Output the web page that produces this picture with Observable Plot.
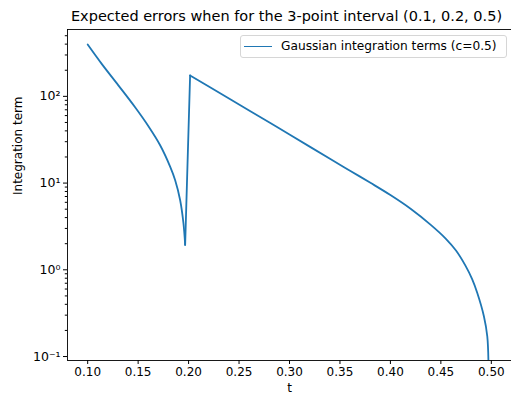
<!DOCTYPE html>
<html>
<head>
<meta charset="utf-8">
<script src="https://cdn.jsdelivr.net/npm/d3@7"></script>
<script src="https://cdn.jsdelivr.net/npm/@observablehq/plot@0.6"></script>
<style>
  html, body { margin: 0; padding: 0; background: white; }
  #wrap { position: relative; width: 511px; height: 396px; font-family: "DejaVu Sans", sans-serif; }
  #legend { position: absolute; left: 240px; top: 35px; width: 265px; height: 21px; border: 1px solid #d6d6d6; border-radius: 3px; background: rgba(255,255,255,0.8); font-size: 12.2px; color: #000; }
  #legend .sw { position: absolute; left: 3px; top: 9.5px; width: 28px; height: 0; border-top: 1.8px solid #1f77b4; }
  #legend .lb { position: absolute; left: 40px; top: 3px; white-space: nowrap; }
</style>
</head>
<body>
<div id="wrap"></div>
<script>
const titleText = "Expected errors when for the 3-point interval (0.1, 0.2, 0.5)";
const xLabel = "t";
const yLabel = "Integration term";
const seriesName = "Gaussian integration terms (c=0.5)";

// branch before the middle node (t < 0.2)
const tLeft = [0.100, 0.1139, 0.1304, 0.1470, 0.1602, 0.1718, 0.1818, 0.1867, 0.1916, 0.1949, 0.1966];
const vLeft = [396, 237, 134, 74.8, 45.2, 27.3, 15.4, 10.8, 6.38, 3.44, 1.94];
// branch after the middle node (t > 0.2)
const tRight = [0.2015, 0.2200, 0.2500, 0.2810, 0.3000, 0.3405, 0.3604, 0.3802, 0.4000, 0.4200, 0.4400,
                0.4550, 0.4650, 0.4745, 0.4810, 0.4861, 0.4927, 0.4960, 0.4972];
const vRight = [174, 129.7, 80.5, 49.2, 36.4, 18.9, 13.8, 10.07, 7.28, 5.06, 3.30,
                2.28, 1.67, 1.11, 0.78, 0.54, 0.29, 0.171, 0.08];

const xTicks = [0.10, 0.15, 0.20, 0.25, 0.30, 0.35, 0.40, 0.45, 0.50];
const yMajorTicks = [0.1, 1, 10, 100];
const yMinorTicks = [0.2, 0.3, 0.4, 0.5, 0.6, 0.7, 0.8, 0.9,
                     2, 3, 4, 5, 6, 7, 8, 9,
                     20, 30, 40, 50, 60, 70, 80, 90,
                     200, 300, 400, 500];

const left = tLeft.map((t, i) => ({t, v: vLeft[i], seg: "left"}));
const right = tRight.map((t, i) => ({t, v: vRight[i], seg: "right"}));
const branches = left.concat(right);
const jump = [left[left.length - 1], right[0]];

const sup = {"-": "⁻", "0": "⁰", "1": "¹", "2": "²", "3": "³"};
const fmtPow = d => "10" + String(Math.round(Math.log10(d))).split("").map(c => sup[c]).join("");
const lineStyle = {x: "t", y: "v", stroke: "#1f77b4", strokeWidth: 1.8, clip: true};

const chart = Plot.plot({
  width: 511,
  height: 396,
  marginLeft: 67,
  marginRight: 0,
  marginTop: 29,
  marginBottom: 36,
  style: {fontFamily: "DejaVu Sans, sans-serif", fontSize: "12px", color: "black", background: "white"},
  x: {domain: [0.08, 0.52]},
  y: {type: "log", domain: [0.09, 590]},
  marks: [
    Plot.lineY(branches, {...lineStyle, z: "seg", curve: "catmull-rom"}),
    Plot.lineY(jump, {...lineStyle, curve: "linear"}),
    Plot.frame({stroke: "black", strokeWidth: 0.9}),
    Plot.axisX({ticks: xTicks, tickFormat: d3.format(".2f"), tickSize: 4, tickPadding: 3, label: null, fontSize: 12}),
    Plot.axisY({ticks: yMajorTicks, tickFormat: fmtPow, tickSize: 4, tickPadding: 3, label: null, fontSize: 12.5}),
    Plot.axisY({ticks: yMinorTicks, tickFormat: () => "", tickSize: 2.2, label: null}),
    Plot.text([titleText], {frameAnchor: "top", dy: -9, lineAnchor: "bottom", fontSize: 14.5, dx: -3}),
    Plot.text([yLabel], {frameAnchor: "left", dx: -49, rotate: -90, fontSize: 12}),
    Plot.text([xLabel], {frameAnchor: "bottom", dy: 31, fontSize: 12})
  ]
});

const wrap = document.getElementById("wrap");
wrap.appendChild(chart);
const legend = document.createElement("div");
legend.id = "legend";
legend.innerHTML = '<div class="sw"></div><div class="lb"></div>';
legend.querySelector(".lb").textContent = seriesName;
wrap.appendChild(legend);
</script>
</body>
</html>
